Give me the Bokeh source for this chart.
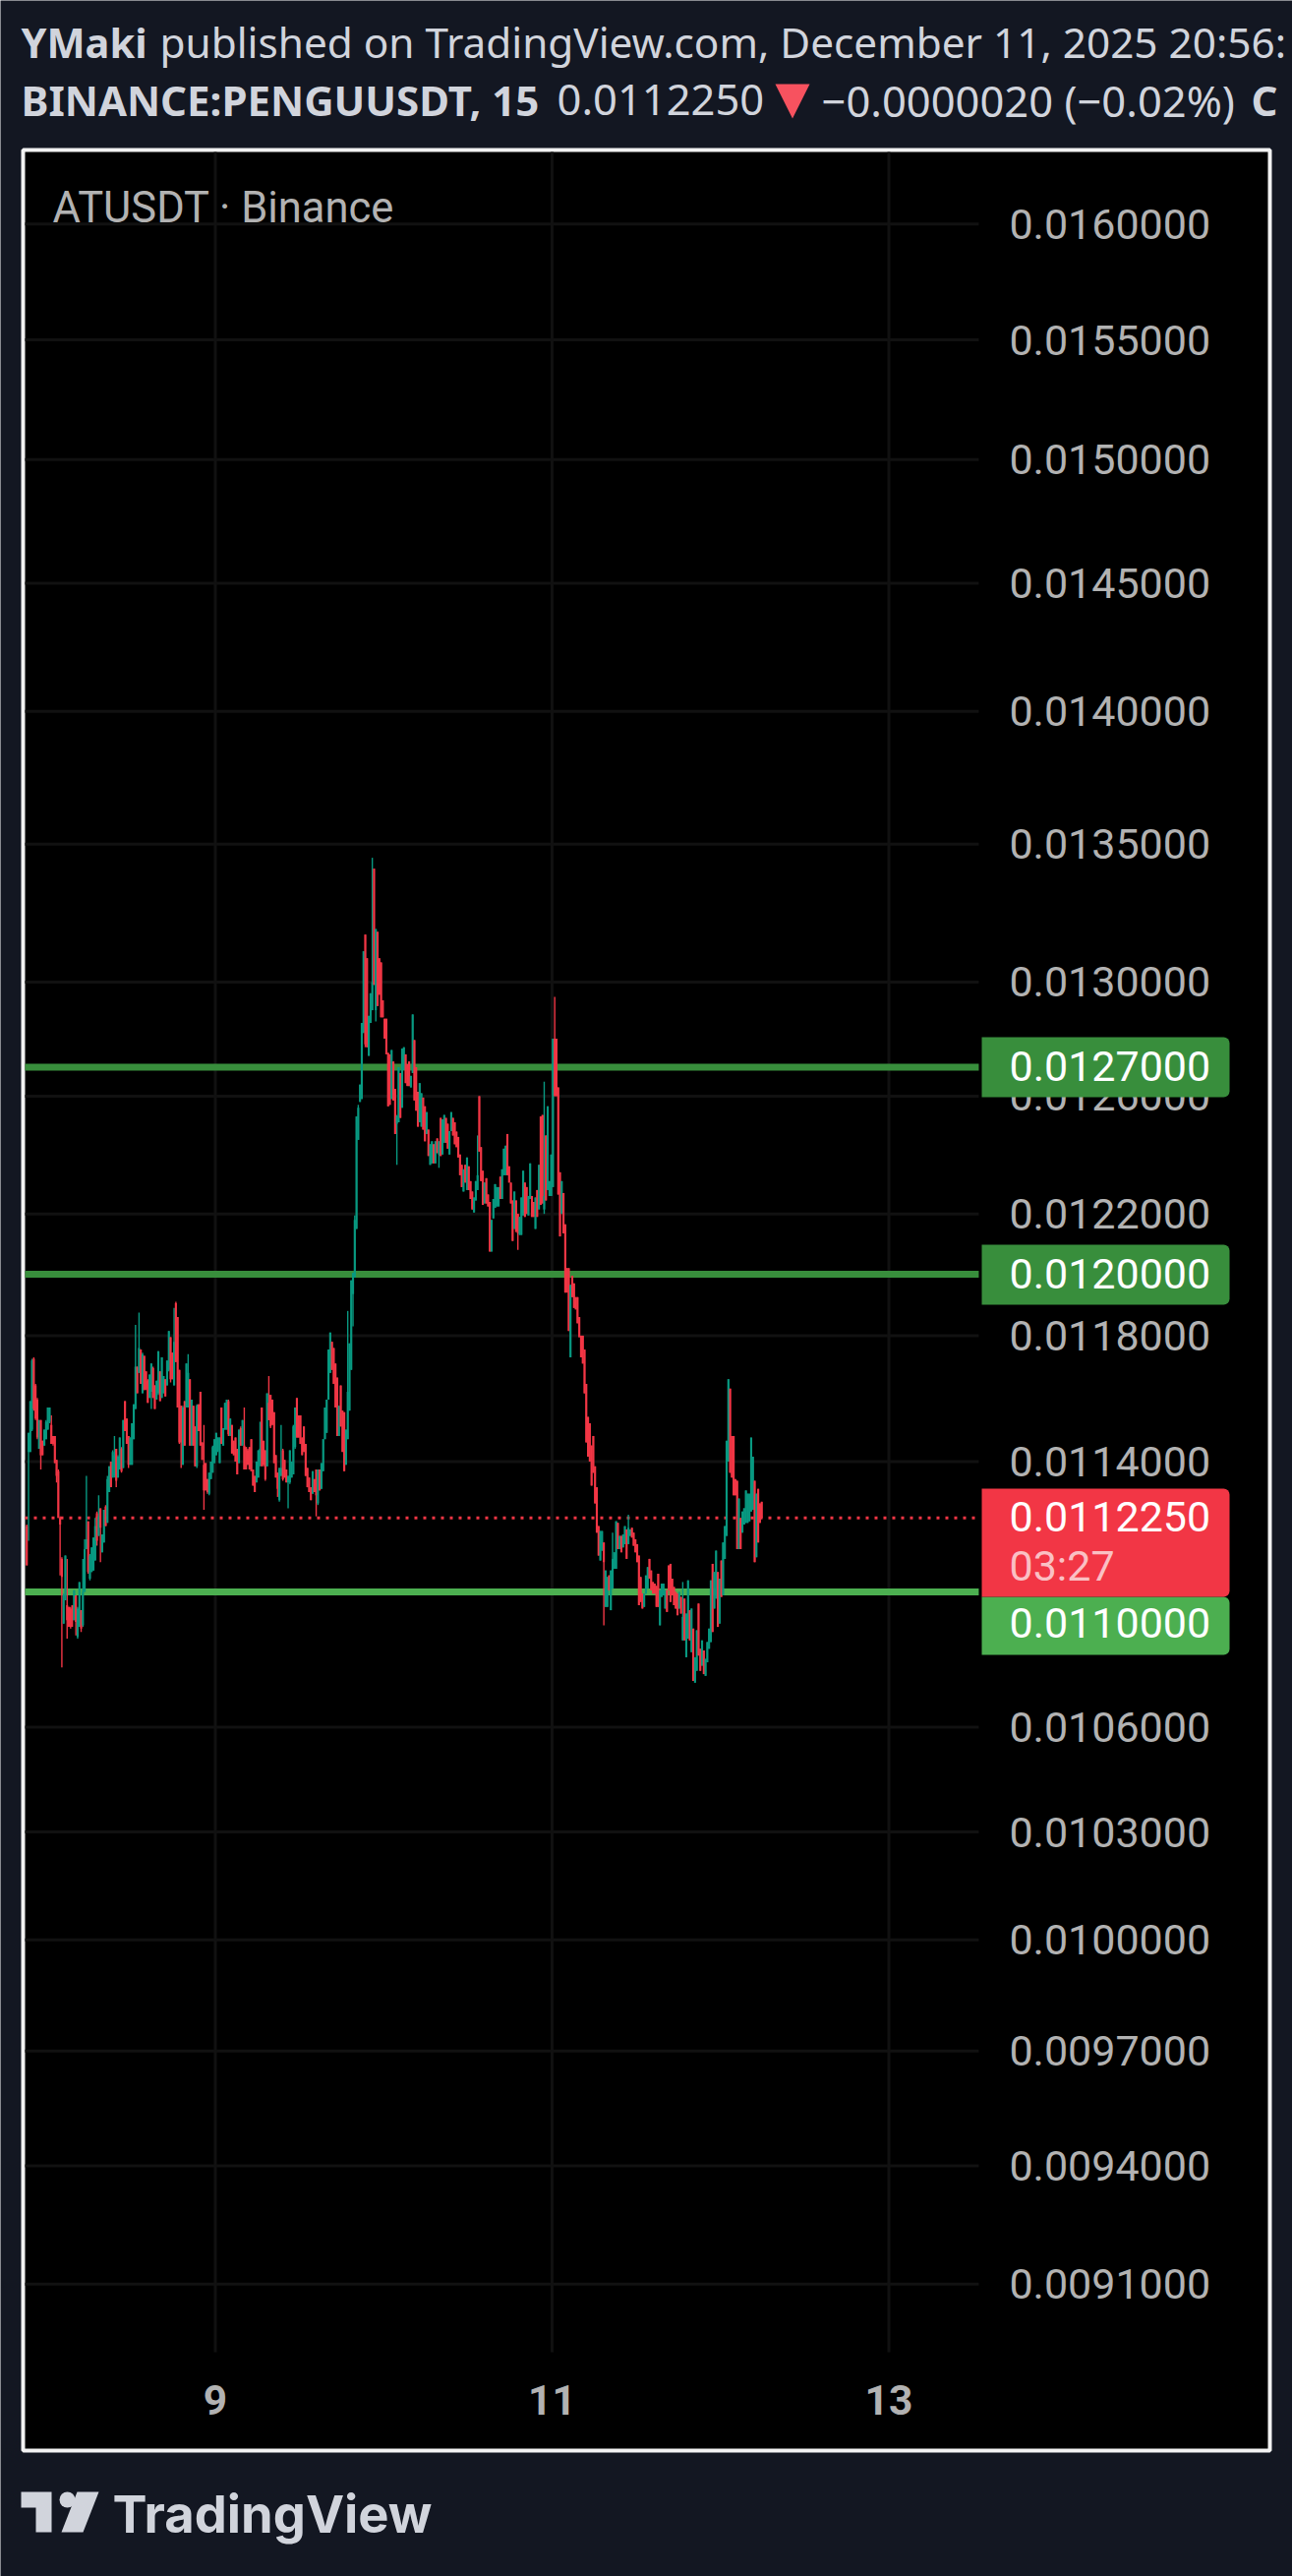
from bokeh.embed import file_html
from bokeh.models import (BoxAnnotation, ColumnDataSource, FixedTicker, Label, LinearAxis, LogAxis,
                          PolyAnnotation, PrintfTickFormatter, Range1d)
from bokeh.plotting import figure
from bokeh.resources import INLINE

# 15 minute candles, one row is 3 hours: (open, high, low, close) in 0.000001 USDT
dec7 = [(11200,11205,11080,11080),(11430,11490,11155,11490),(11430,11590,11430,11590),(11500,11725,11495,11720),(11725,11730,11560,11565),(11640,11645,11530,11535),(11595,11600,11470,11475),(11440,11530,11440,11530),(11530,11530,11375,11420),(11465,11465,11420,11420),(11450,11500,11450,11500),(11470,11530,11470,11525)]
dec8 = [
 (11500,11570,11500,11570),(11525,11570,11520,11570),(11515,11545,11455,11455),(11480,11480,11450,11455),(11480,11480,11395,11395),(11405,11405,11335,11355),(11370,11375,11225,11225),(11225,11230,11050,11205),(11100,11105,10775,11045),(10905,10995,10905,10990),(10975,11110,10975,11110),(10960,11100,10860,10915),
 (10955,10955,10895,10895),(10950,10955,10890,10895),(10960,10960,10895,10915),(10915,11005,10915,11005),(10990,10990,10870,10910),(10865,10955,10860,10950),(10895,11030,10895,11030),(10945,10945,10880,10890),(10900,11100,10895,11000),(11000,11160,11000,11130),(11130,11355,11130,11160),(11215,11215,11055,11060),
 (11040,11115,11035,11110),(11060,11135,11060,11135),(11065,11165,11065,11165),(11095,11225,11095,11200),(11240,11245,11140,11155),(11170,11295,11170,11230),(11255,11255,11090,11195),(11120,11175,11120,11175),(11150,11250,11150,11250),(11260,11265,11200,11200),(11210,11355,11210,11345),(11305,11385,11305,11385),
 (11400,11400,11320,11320),(11350,11435,11350,11430),(11355,11480,11350,11420),(11440,11440,11320,11340),(11350,11420,11350,11415),(11375,11475,11375,11475),(11440,11445,11365,11370),(11380,11530,11380,11530),(11590,11590,11495,11495),(11535,11535,11455,11455),(11480,11480,11380,11390),(11390,11475,11390,11475),
 (11390,11520,11390,11520),(11470,11580,11470,11580),(11565,11835,11565,11700),(11700,11700,11615,11615),(11680,11875,11680,11760),(11755,11755,11645,11645),(11615,11745,11615,11740),(11735,11735,11625,11625),(11685,11685,11625,11630),(11655,11660,11585,11585),(11600,11675,11600,11675),(11620,11710,11565,11710),
 (11695,11700,11600,11600),(11640,11640,11565,11565),(11595,11655,11595,11655),(11615,11750,11610,11750),(11685,11685,11590,11590),(11600,11730,11600,11730),(11615,11670,11615,11670),(11660,11660,11605,11605),(11640,11720,11640,11720),(11690,11815,11685,11815),(11795,11795,11650,11660),(11745,11745,11660,11660),
 (11640,11890,11640,11780),(11905,11910,11715,11715),(11860,11860,11570,11570),(11690,11690,11455,11460),(11575,11575,11380,11460),(11390,11575,11390,11570),(11590,11590,11450,11450),(11570,11710,11570,11710),(11570,11740,11570,11680),(11660,11660,11450,11450),(11450,11595,11450,11595),(11575,11575,11450,11450),
 (11510,11510,11385,11385),(11385,11580,11380,11575),(11580,11580,11495,11495),(11620,11620,11450,11450),(11460,11460,11405,11405),(11390,11515,11250,11310),(11395,11395,11310,11310),(11345,11345,11300,11305),(11300,11365,11295,11365),(11345,11400,11345,11400),(11365,11450,11365,11445),(11395,11470,11395,11470),
]
dec9 = [
 (11420,11490,11420,11490),(11435,11475,11430,11475),(11395,11475,11395,11475),(11570,11570,11455,11455),(11450,11505,11450,11505),(11500,11585,11500,11585),(11500,11595,11500,11595),(11590,11595,11480,11485),(11480,11535,11480,11535),(11515,11515,11425,11425),(11465,11465,11420,11420),(11475,11475,11400,11400),
 (11440,11440,11360,11360),(11395,11500,11395,11500),(11505,11510,11450,11450),(11450,11530,11450,11530),(11450,11570,11375,11375),(11445,11445,11375,11375),(11435,11440,11390,11390),(11445,11445,11375,11375),(11470,11470,11370,11370),(11375,11375,11325,11325),(11355,11355,11305,11305),(11335,11400,11335,11400),
 (11350,11435,11350,11435),(11400,11525,11385,11440),(11570,11570,11385,11385),(11465,11465,11385,11390),(11435,11435,11340,11345),(11385,11615,11385,11615),(11585,11670,11530,11530),(11610,11610,11505,11510),(11595,11595,11515,11515),(11555,11555,11395,11395),(11420,11420,11350,11350),(11365,11365,11290,11315),
 (11280,11380,11275,11380),(11355,11515,11355,11380),(11435,11440,11340,11345),(11405,11405,11350,11350),(11375,11375,11335,11335),(11335,11355,11255,11355),(11335,11435,11330,11435),(11350,11400,11350,11400),(11360,11515,11360,11510),(11445,11570,11440,11570),(11600,11600,11475,11475),(11545,11545,11475,11475),
 (11545,11545,11455,11455),(11475,11475,11420,11420),(11510,11510,11430,11430),(11455,11455,11355,11355),(11380,11380,11320,11320),(11350,11350,11305,11305),(11320,11320,11280,11280),(11300,11370,11300,11370),(11345,11345,11305,11305),(11375,11375,11230,11295),(11270,11375,11265,11375),(11375,11375,11310,11310),
 (11315,11395,11315,11395),(11370,11470,11370,11470),(11470,11570,11470,11570),(11490,11595,11490,11595),(11595,11755,11595,11755),(11680,11810,11680,11810),(11780,11780,11690,11690),(11760,11760,11645,11645),(11710,11710,11570,11570),(11665,11665,11480,11480),(11480,11575,11480,11575),(11640,11640,11510,11510),
 (11560,11560,11430,11430),(11555,11555,11370,11370),(11390,11500,11390,11500),(11470,11880,11470,11620),(11560,11775,11560,11775),(11690,11980,11690,11980),(11935,12005,11830,12005),(11990,12195,11990,12180),(12150,12530,12150,12530),(12450,12570,12450,12560),(12580,12640,12580,12640),(12590,12855,12590,12855),
 (12820,13110,12820,13110),(13170,13170,12770,12780),(13085,13085,12770,12770),(12740,12880,12740,12880),(12855,12960,12855,12960),(12900,13450,12900,13000),(13410,13410,12990,12990),(12900,13190,12860,13190),(13180,13180,12915,12915),(13085,13085,12955,12955),(13070,13070,12875,12875),(12935,12935,12875,12875),
]
dec10 = [
 (12870,12870,12800,12800),(12870,12870,12745,12745),(12750,12750,12565,12565),(12745,12745,12570,12570),(12590,12760,12590,12760),(12720,12720,12585,12585),(12625,12625,12470,12470),(12505,12535,12365,12530),(12510,12700,12510,12700),(12680,12680,12525,12525),(12560,12765,12560,12765),(12690,12770,12690,12770),
 (12745,12745,12645,12645),(12710,12710,12635,12635),(12720,12720,12635,12635),(12630,12670,12630,12670),(12680,12885,12680,12885),(12795,12795,12585,12585),(12700,12700,12550,12550),(12615,12615,12495,12495),(12510,12645,12510,12645),(12495,12610,12495,12610),(12595,12595,12485,12485),(12565,12565,12445,12445),
 (12470,12545,12470,12545),(12485,12485,12395,12395),(12365,12435,12365,12435),(12370,12445,12370,12445),(12435,12435,12370,12370),(12370,12445,12370,12445),(12455,12455,12405,12405),(12400,12445,12355,12445),(12525,12525,12395,12395),(12400,12520,12400,12520),(12440,12535,12440,12535),(12525,12525,12440,12440),
 (12505,12505,12420,12420),(12400,12480,12400,12480),(12480,12545,12480,12545),(12525,12525,12465,12465),(12510,12510,12435,12435),(12478,12478,12425,12425),(12460,12460,12390,12390),(12400,12400,12330,12330),(12365,12365,12290,12290),(12275,12350,12275,12350),(12365,12365,12305,12305),(12280,12390,12280,12390),
 (12360,12360,12280,12280),(12310,12310,12250,12250),(12275,12275,12215,12215),(12205,12255,12205,12255),(12245,12310,12245,12310),(12280,12465,12280,12330),(12600,12600,12410,12410),(12425,12425,12310,12310),(12345,12345,12230,12230),(12235,12305,12235,12305),(12320,12320,12235,12235),(12265,12265,12225,12225),
 (12240,12240,12075,12075),(12075,12180,12075,12180),(12185,12250,12185,12250),(12220,12300,12220,12300),(12225,12290,12225,12290),(12225,12290,12225,12290),(12325,12325,12250,12250),(12250,12350,12250,12350),(12330,12420,12330,12420),(12330,12430,12330,12430),(12470,12470,12330,12330),(12360,12360,12305,12305),
 (12305,12305,12235,12235),(12245,12245,12110,12110),(12150,12275,12150,12275),(12245,12245,12140,12140),(12200,12200,12080,12135),(12130,12190,12130,12190),(12130,12255,12130,12255),(12195,12345,12195,12345),(12305,12305,12190,12190),(12290,12290,12200,12200),(12195,12260,12195,12260),(12250,12370,12250,12370),
 (12260,12260,12190,12190),(12240,12240,12190,12190),(12150,12255,12150,12255),(12280,12280,12190,12190),(12215,12365,12215,12365),(12530,12530,12230,12230),(12535,12535,12235,12235),(12215,12650,12200,12260),(12465,12465,12245,12245),(12280,12565,12280,12565),(12260,12310,12260,12310),(12260,12400,12260,12400),
]
dec11 = [
 (12290,12800,12290,12800),(12800,12947,12600,12600),(12800,12800,12600,12600),(12630,12630,12265,12265),(12340,12340,12125,12125),(12200,12310,12200,12310),(12270,12270,12135,12135),(12165,12165,11940,11940),(12020,12020,11940,11940),(12020,12020,11815,11815),(11730,11965,11730,11965),(11995,11995,11925,11925),
 (11970,11970,11890,11890),(11925,11925,11885,11885),(11925,11925,11840,11840),(11860,11860,11795,11795),(11800,11800,11730,11730),(11800,11800,11710,11710),(11755,11755,11615,11615),(11645,11645,11460,11460),(11540,11540,11415,11415),(11520,11520,11400,11400),(11450,11450,11325,11325),(11480,11480,11365,11365),
 (11385,11385,11270,11270),(11320,11320,11180,11180),(11200,11200,11110,11110),(11095,11185,11095,11185),(11125,11185,11125,11185),(11150,11150,10900,11090),(10955,11065,10955,11065),(10955,11045,10955,11045),(11050,11050,11005,11005),(10945,11065,10945,11065),(11010,11180,11010,11100),(11070,11120,11070,11120),
 (11070,11215,11070,11215),(11210,11210,11130,11130),(11130,11170,11130,11170),(11170,11170,11120,11120),(11135,11175,11135,11175),(11145,11200,11145,11200),(11190,11190,11100,11100),(11145,11235,11145,11195),(11170,11190,11170,11190),(11195,11195,11165,11165),(11180,11180,11140,11140),(11160,11160,11120,11120),
 (11145,11145,11090,11090),(11110,11110,10960,10960),(11045,11045,10970,10970),(10995,10995,10950,10950),(10955,10995,10955,10995),(10995,11050,10995,11050),(11010,11075,11010,11075),(11100,11100,11040,11040),(11065,11065,11005,11005),(11030,11030,10995,10995),(11025,11025,10995,10995),(11018,11018,10955,10955),
 (11055,11055,10955,10955),(10900,11005,10900,11005),(10985,11025,10985,11025),(10990,11025,10990,11025),(10950,11005,10950,11005),(11005,11005,10940,10940),(11080,11080,11005,11005),(11085,11085,10970,10970),(11040,11040,10990,10990),(11015,11015,10960,10960),(11000,11000,10950,10950),(10995,10995,10930,10930),
 (10950,11000,10950,11000),(10985,10985,10935,10935),(10855,11030,10855,10925),(10980,10980,10855,10855),(10805,10935,10805,10935),(10860,11035,10860,11035),(10945,10945,10855,10855),(10820,10950,10820,10950),(10890,10890,10735,10735),(10730,10805,10730,10805),(10765,10885,10765,10885),(10965,10965,10810,10810),
 (10830,10830,10765,10765),(10780,10855,10780,10855),(10825,10825,10755,10755),(10750,10800,10750,10800),(10790,10850,10790,10850),(10830,10890,10830,10890),(10850,11035,10850,11035),(11085,11085,10880,10880),(10950,11060,10950,11060),(10980,11125,10980,11125),(11060,11060,10895,10895),(10905,11040,10905,11040),
]
dec12 = [
 (11095,11095,10985,10985),(10990,11150,10990,11150),(11100,11200,11100,11200),(11170,11465,11170,11465),(11400,11660,11400,11660),(11630,11630,11365,11365),(11480,11480,11350,11350),(11480,11480,11295,11295),(11345,11345,11295,11295),(11340,11340,11130,11130),(11130,11285,11130,11285),(11225,11225,11130,11130),
 (11180,11245,11180,11245),(11205,11255,11205,11255),(11210,11310,11210,11310),(11210,11300,11210,11300),(11215,11300,11215,11300),(11245,11475,11245,11475),(11250,11415,11250,11415),(11340,11340,11090,11090),(11105,11300,11105,11300),(11315,11315,11150,11150),(11270,11270,11210,11210),(11275,11275,11225,11225),
]
first_day = 7.875
price_ticks = [0.016, 0.0155, 0.015, 0.0145, 0.014, 0.0135, 0.013, 0.0126, 0.0122, 0.0118, 0.0114,
               0.0106, 0.0103, 0.01, 0.0097, 0.0094, 0.0091]
day_ticks = [9, 11, 13]
level_prices = [0.0127, 0.012, 0.011]
level_colors = ["#388e3c", "#388e3c", "#4caf50"]
last_price = 0.011225

# data window of the chart part of the pane, the price axis sits on its right edge
DAY_MIN, DAY_MAX = 7.870, 13.534
PRICE_MIN, PRICE_MAX = 0.008932, 0.0163185

BG, RED, TEAL, GRID, AXIS_TEXT, HEAD_TEXT = "#131722", "#f23645", "#089981", "#111111", "#b2b2b2", "#d1d4dc"

rows = dec7 + dec8 + dec9 + dec10 + dec11 + dec12
cds = ColumnDataSource(dict(
    t=[first_day + (i + 0.5) / 96 for i in range(len(rows))],
    high=[r[1] * 1e-6 for r in rows],
    low=[r[2] * 1e-6 for r in rows],
    top=[max(r[0], r[3]) * 1e-6 for r in rows],
    bottom=[min(r[0], r[3]) * 1e-6 for r in rows],
    color=[TEAL if r[3] >= r[0] else RED for r in rows],
))

# the frame fills the whole page so that nothing outside the chart gets clipped
p = figure(width=1314, height=2619, output_backend="svg", toolbar_location=None,
           x_axis_type=None, y_axis_type="log", y_axis_location=None,
           x_range=Range1d(7.7241, 15.3971), y_range=Range1d(0.0083999, 0.0170099),
           min_border=0, border_fill_color=BG, background_fill_color=BG, outline_line_color=None)
p.grid.visible = False


def box(left, right, top, bottom, color, level, line_color=None, line_width=0, radius=0):
    p.add_layout(BoxAnnotation(left=left, right=right, top=top, bottom=bottom, left_units="canvas", right_units="canvas",
                               top_units="canvas", bottom_units="canvas", fill_color=color, fill_alpha=1,
                               line_color=line_color, line_alpha=1, line_width=line_width, border_radius=radius,
                               level=level))


def txt(x, y, s, font="Noto Sans", size="41.5px", color=HEAD_TEXT, style="normal", baseline="alphabetic", alpha=1.0):
    p.add_layout(Label(x=x, y=y, x_units="canvas", y_units="canvas", text=s, text_font=font, text_font_size=size,
                       text_color=color, text_font_style=style, text_baseline=baseline, text_alpha=alpha,
                       level="overlay"))


def poly(xs, ys, color):
    p.add_layout(PolyAnnotation(xs=xs, ys=ys, xs_units="canvas", ys_units="canvas", fill_color=color, fill_alpha=1,
                                line_color=None, level="overlay"))


# chart pane: black box with a white edge that also holds both axes
box(23, 1291, 152, 2491, "#000000", "image", "#f2f2f2", 4)

yaxis = LogAxis(ticker=FixedTicker(ticks=price_ticks), formatter=PrintfTickFormatter(format="%.7f"),
                fixed_location=DAY_MAX, axis_line_color=None, major_tick_line_color=None, minor_tick_line_color=None,
                major_label_standoff=25, major_label_text_font="Roboto", major_label_text_font_size="43px",
                major_label_text_color=AXIS_TEXT)
xaxis = LinearAxis(ticker=FixedTicker(ticks=day_ticks), fixed_location=PRICE_MIN, axis_line_color=None,
                   major_tick_line_color=None, minor_tick_line_color=None, major_label_standoff=27,
                   major_label_text_font="Roboto", major_label_text_font_size="42.5px",
                   major_label_text_font_style="bold", major_label_text_color=AXIS_TEXT)
p.add_layout(yaxis, "right")
p.add_layout(xaxis, "below")

# grid and level lines stop at the edge of the chart part, so they are plain segments
p.segment([DAY_MIN] * len(price_ticks), price_ticks, [DAY_MAX] * len(price_ticks), price_ticks, color=GRID, line_width=3)
p.segment(day_ticks, [PRICE_MIN] * len(day_ticks), day_ticks, [PRICE_MAX] * len(day_ticks), color=GRID, line_width=3)
p.segment([DAY_MIN] * 3, level_prices, [DAY_MAX] * 3, level_prices, color=level_colors, line_width=7)
p.segment([DAY_MIN], [last_price], [DAY_MAX], [last_price], color=RED, line_width=3, line_dash="3 6")

p.segment("t", "high", "t", "low", source=cds, color="color", line_width=1.4)
p.vbar(x="t", top="top", bottom="bottom", width=0.0125, source=cds, fill_color="color", line_color=None)

box(998, 1250, 1054, 1115, "#388e3c", "annotation", radius=(0, 6, 6, 0))
box(998, 1250, 1265, 1326, "#388e3c", "annotation", radius=(0, 6, 6, 0))
box(998, 1250, 1623, 1682, "#4caf50", "annotation", radius=(0, 6, 6, 0))
box(998, 1250, 1513, 1623, RED, "annotation", radius=(0, 6, 6, 0))
txt(1026, 1083, "0.0127000", "Roboto", "43px", "#ffffff", baseline="middle")
txt(1026, 1294, "0.0120000", "Roboto", "43px", "#ffffff", baseline="middle")
txt(1026, 1541, "0.0112250", "Roboto", "43px", "#ffffff", baseline="middle")
txt(1026, 1591, "03:27", "Roboto", "43px", "#ffffff", baseline="middle", alpha=0.7)
txt(1026, 1649, "0.0110000", "Roboto", "43px", "#ffffff", baseline="middle")

txt(53, 211, "ATUSDT · Binance", "Roboto", "43.5px", AXIS_TEXT)
txt(21, 42, "YMaki", style="bold")
txt(162, 42, "published on TradingView.com, December 11, 2025 20:56:", size="42.3px")
txt(21, 101, "BINANCE:PENGUUSDT, 15", size="42px", style="bold")
txt(566, 101, "0.0112250", size="43.5px")
txt(835, 101, "−0.0000020 (−0.02%)", size="43.5px")
txt(1272, 101, "C", size="42px", style="bold")
poly([788, 823, 805.5], [85, 85, 120], "#f7525f")

# TradingView mark and word in the footer
poly([21, 52, 52, 36, 36, 21], [2533, 2533, 2574, 2574, 2549, 2549], HEAD_TEXT)
poly([78, 100, 84, 62], [2533, 2533, 2574, 2574], HEAD_TEXT)
box(60, 76, 2533, 2549, HEAD_TEXT, "overlay", radius=8)
txt(114, 2555, "TradingView", "Inter", "52.5px", HEAD_TEXT, style="bold")

open("out.html", "w").write(file_html(p, INLINE))
